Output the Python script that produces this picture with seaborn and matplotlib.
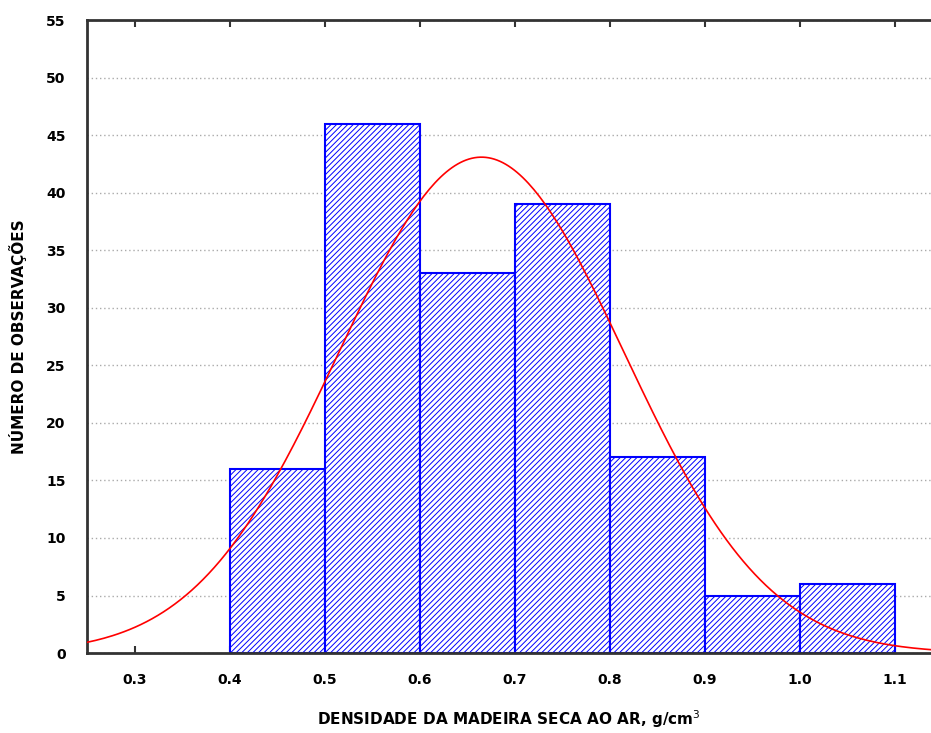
import numpy as np
import pandas as pd
import matplotlib
matplotlib.use("Agg")
import matplotlib.pyplot as plt
import seaborn as sns

# histogram classes (g/cm3) and observed counts
bin_edges = [0.4, 0.5, 0.6, 0.7, 0.8, 0.9, 1.0, 1.1]
counts = [16, 46, 33, 39, 17, 5, 6]

# fitted normal curve parameters
fit_mean = 0.665
fit_sd = 0.150

x_ticks = [0.3, 0.4, 0.5, 0.6, 0.7, 0.8, 0.9, 1.0, 1.1]
y_ticks = [0, 5, 10, 15, 20, 25, 30, 35, 40, 45, 50, 55]


def main():
    sns.set_style("white")
    plt.rcParams['font.family'] = ['DejaVu Sans']
    plt.rcParams['hatch.color'] = '#0000ff'
    plt.rcParams['hatch.linewidth'] = 0.7

    centers = [(a + b) / 2 for a, b in zip(bin_edges[:-1], bin_edges[1:])]
    df = pd.DataFrame({'Densidade': centers, 'Obs': counts})

    fig = plt.figure(figsize=(9.31, 7.33), dpi=100)
    ax = fig.add_axes([0.0935, 0.109, 0.9065, 0.8637])

    ax.yaxis.grid(True, linestyle=(0, (1, 2)), color='#aaaaaa', linewidth=1)
    ax.set_axisbelow(True)

    sns.histplot(data=df, x='Densidade', weights='Obs', bins=bin_edges,
                 facecolor='white', edgecolor='#0000ff', linewidth=1.5,
                 hatch='//////', alpha=1, ax=ax)

    n = sum(counts)
    width = bin_edges[1] - bin_edges[0]
    xs = np.linspace(0.25, 1.14, 300)
    ys = n * width * np.exp(-0.5 * ((xs - fit_mean) / fit_sd) ** 2) / (fit_sd * np.sqrt(2 * np.pi))
    sns.lineplot(x=xs, y=ys, color='#ff0000', linewidth=1.2, ax=ax, zorder=5)

    ax.set_xlim(0.25, 1.138)
    ax.set_ylim(0, 55)
    ax.set_xticks(x_ticks)
    ax.set_xticklabels([f"{v:.1f}" for v in x_ticks])
    ax.set_yticks(y_ticks)
    for lab in ax.get_xticklabels() + ax.get_yticklabels():
        lab.set_fontweight('bold')
        lab.set_fontsize(10)
        lab.set_color('black')

    ax.tick_params(axis='x', direction='in', top=True, bottom=True, length=5,
                   width=1.5, color='#333333', pad=14)
    ax.tick_params(axis='y', left=False, pad=12)

    for side in ['left', 'bottom', 'top']:
        ax.spines[side].set_color('#333333')
        ax.spines[side].set_linewidth(2)
    ax.spines['right'].set_visible(False)

    ax.set_xlabel("DENSIDADE DA MADEIRA SECA AO AR, g/cm$^3$", fontsize=11,
                  fontweight='bold', labelpad=16, color='black')
    ax.set_ylabel("NÚMERO DE OBSERVAÇÕES", fontsize=11, fontweight='bold',
                  labelpad=14, color='black')

    fig.savefig("out.png", dpi=100)
    plt.close(fig)


if __name__ == "__main__":
    main()
